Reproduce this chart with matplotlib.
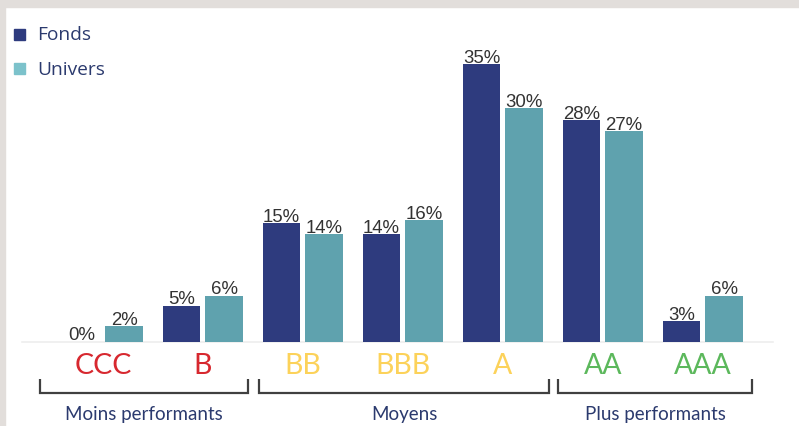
import matplotlib.pyplot as plt
from matplotlib.patches import Rectangle

# data (bar heights in %, printed labels as shown)
categories = ["CCC", "B", "BB", "BBB", "A", "AA", "AAA"]
cat_colors = ["#d7282f", "#d7282f", "#fcd25a", "#fcd25a", "#fcd25a", "#5cb85c", "#5cb85c"]
fonds = [0.0, 4.6, 15.2, 13.8, 35.6, 28.4, 2.6]
univers = [2.0, 5.9, 13.8, 15.6, 29.9, 27.0, 5.9]
fonds_lbl = ["0%", "5%", "15%", "14%", "35%", "28%", "3%"]
univers_lbl = ["2%", "6%", "14%", "16%", "30%", "27%", "6%"]
groups = ["Moins performants", "Moyens", "Plus performants"]
group_spans = [(0, 1), (2, 4), (5, 6)]

c_fonds = "#2e3b7e"
c_univ = "#5fa2ae"
c_univ_leg = "#7cc2cb"
navy_txt = "#2b3a6e"

fig = plt.figure(figsize=(7.99, 4.27), dpi=100)
ax = fig.add_axes([0, 0, 1, 1])
W, H = 799, 427
# pixel mapping: category i centre at x=103+100*i, baseline at y=342.7 from top, 7.8 px per %
px_per = 7.8
base_px = 342.7
ax.set_xlim(-1.03, (W - 103) / 100)
ax.set_ylim(-(H - base_px) / px_per, base_px / px_per)
ax.axis("off")

def ypx(p):
    # pixel row (from top) -> data y
    return (base_px - p) / px_per

# grey frame at top and left
fig.patches.append(Rectangle((0, 1 - 8 / H), 1, 8 / H, transform=fig.transFigure,
                             color="#e2dedb", zorder=0))
fig.patches.append(Rectangle((0, 0), 5 / W, 1, transform=fig.transFigure,
                             color="#e2dedb", zorder=0))

x = list(range(len(categories)))
bw = 0.375
ax.bar([i - 0.215 for i in x], fonds, width=bw, color=c_fonds, zorder=2)
ax.bar([i + 0.21 for i in x], univers, width=bw, color=c_univ, zorder=2)

for i in x:
    for dx, v, t in ((-0.215, fonds[i], fonds_lbl[i]), (0.21, univers[i], univers_lbl[i])):
        ax.annotate(t, (i + dx, v), xytext=(0, 1.8), textcoords="offset points",
                    ha="center", va="baseline", fontsize=13.4, color="#333333",
                    family="Liberation Sans")

# baseline
ax.plot([-0.81, 6.7], [0, 0], color="#eeeeee", lw=1.2, zorder=1)

# category labels
for i, (c, col) in enumerate(zip(categories, cat_colors)):
    ax.text(i, ypx(366), c, ha="center", va="center", fontsize=20.5, color=col, family="Lato")

# brackets and group labels
pads = [(-0.63, 0.45), (-0.44, 0.46), (-0.45, 0.49)]
y_top, y_bot = ypx(380), ypx(393.5)
for g, (a, b), (pl, pr) in zip(groups, group_spans, pads):
    x0, x1 = a + pl, b + pr
    ax.plot([x0, x0, x1, x1], [y_top, y_bot, y_bot, y_top], color="#404040", lw=1.6,
            solid_joinstyle="miter", solid_capstyle="butt")
    ax.text((x0 + x1) / 2, ypx(415), g, ha="center", va="center", fontsize=13.5,
            color=navy_txt, family="Lato")

# legend
for lab, col, yp in (("Fonds", c_fonds, 35), ("Univers", c_univ_leg, 69.5)):
    ax.add_patch(Rectangle((-1.03 + 14 / 100, ypx(yp + 5.5)), 10.5 / 100, 11 / px_per,
                           color=col, clip_on=False))
    ax.text(-1.03 + 37 / 100, ypx(yp), lab, ha="left", va="center", fontsize=13.8,
            color=navy_txt, family="Open Sans")

fig.savefig("out.png", dpi=100)
